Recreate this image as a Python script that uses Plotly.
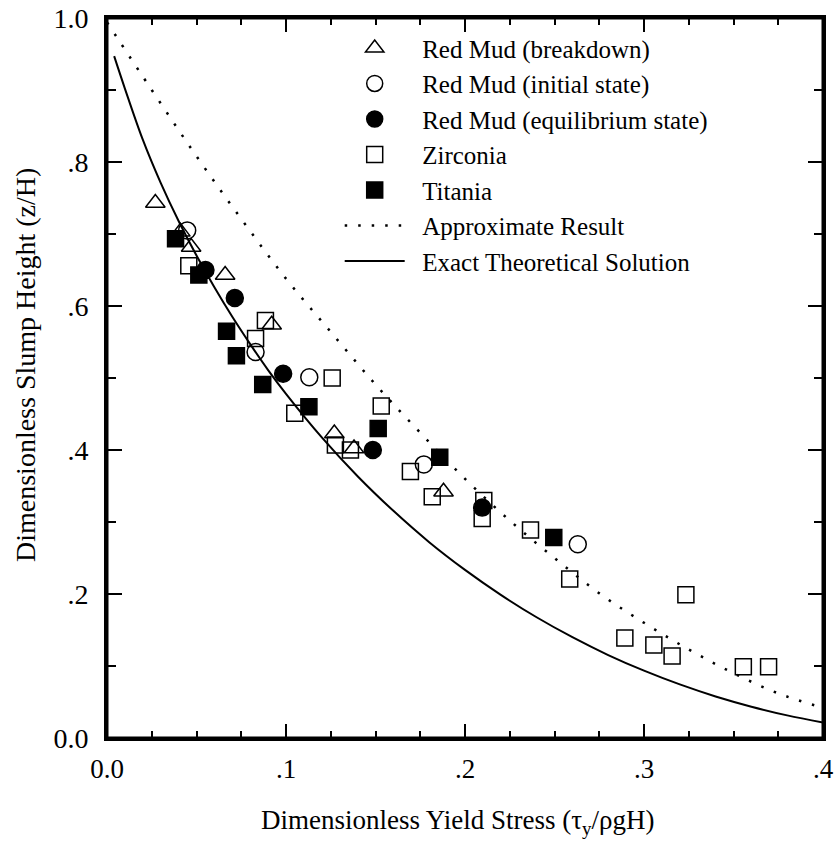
import plotly.graph_objects as go

# ---- data ----
breakdown_x = [0.027, 0.041, 0.047, 0.066, 0.092, 0.127, 0.138, 0.188]
breakdown_y = [0.743, 0.703, 0.682, 0.643, 0.574, 0.423, 0.402, 0.342]

initial_x = [0.0448, 0.083, 0.113, 0.177, 0.263]
initial_y = [0.705, 0.536, 0.501, 0.380, 0.269]

equil_x = [0.055, 0.0714, 0.0984, 0.1485, 0.2096]
equil_y = [0.650, 0.611, 0.506, 0.400, 0.320]

zirconia_x = [0.0457, 0.083, 0.0885, 0.1049, 0.1258, 0.1276, 0.136, 0.1532, 0.1695,
              0.1817, 0.2096, 0.2105, 0.2366, 0.2585, 0.2893, 0.3055, 0.3157, 0.3234,
              0.3555, 0.3696]
zirconia_y = [0.656, 0.555, 0.580, 0.451, 0.500, 0.407, 0.400, 0.461, 0.370,
              0.335, 0.305, 0.330, 0.289, 0.221, 0.139, 0.129, 0.114, 0.199,
              0.099, 0.099]

titania_x = [0.0383, 0.0513, 0.0668, 0.0723, 0.087, 0.1128, 0.1515, 0.1859, 0.2496]
titania_y = [0.6935, 0.643, 0.565, 0.531, 0.491, 0.460, 0.430, 0.390, 0.2785]

approx_x = [0.0, 0.025, 0.05, 0.075, 0.1, 0.125, 0.15, 0.175, 0.2, 0.225, 0.25,
            0.275, 0.3, 0.325, 0.35, 0.375, 0.4]
approx_y = [0.994, 0.900, 0.808, 0.721, 0.638, 0.564, 0.491, 0.424, 0.360, 0.302,
            0.250, 0.201, 0.160, 0.123, 0.090, 0.062, 0.042]

exact_x = [0.004, 0.01, 0.02, 0.03, 0.04, 0.05, 0.06, 0.07, 0.08, 0.09, 0.10, 0.12,
           0.14, 0.16, 0.18, 0.20, 0.22, 0.24, 0.26, 0.28, 0.30, 0.32, 0.34, 0.36,
           0.38, 0.40]
exact_y = [0.947, 0.902, 0.831, 0.771, 0.718, 0.670, 0.626, 0.585, 0.547, 0.511,
           0.478, 0.4175, 0.3636, 0.3155, 0.272, 0.2335, 0.1988, 0.1677, 0.140,
           0.1152, 0.0935, 0.0744, 0.0577, 0.0435, 0.0314, 0.0215]

x_tickvals = [0.0, 0.1, 0.2, 0.3, 0.4]
x_ticktext = ["0.0", ".1", ".2", ".3", ".4"]
y_tickvals = [0.0, 0.2, 0.4, 0.6, 0.8, 1.0]
y_ticktext = ["0.0", ".2", ".4", ".6", ".8", "1.0"]

x_title = "Dimensionless Yield Stress (τ<sub>y</sub>/ρgH)"
y_title = "Dimensionless Slump Height (z/H)"

FONT = "Liberation Serif, Times New Roman, serif"
BLACK = "#000000"
PAD = "\u00a0\u00a0"

fig = go.Figure()

def markers(x, y, name, symbol, size):
    fig.add_trace(go.Scatter(
        x=x, y=y, mode="markers", name=PAD + name,
        marker=dict(symbol=symbol, size=size, color=BLACK,
                    line=dict(color=BLACK, width=1.5)),
    ))

markers(breakdown_x, breakdown_y, "Red Mud (breakdown)", "triangle-up-open", 17)
markers(initial_x, initial_y, "Red Mud (initial state)", "circle-open", 17)
markers(equil_x, equil_y, "Red Mud (equilibrium state)", "circle", 17)
markers(zirconia_x, zirconia_y, "Zirconia", "square-open", 16)
markers(titania_x, titania_y, "Titania", "square", 16)

fig.add_trace(go.Scatter(
    x=approx_x, y=approx_y, mode="lines", name=PAD + "Approximate Result",
    line=dict(color=BLACK, width=2.5, dash="2.5px,11px", shape="spline"),
))
fig.add_trace(go.Scatter(
    x=exact_x, y=exact_y, mode="lines", name=PAD + "Exact Theoretical Solution",
    line=dict(color=BLACK, width=2, shape="spline"),
))

fig.update_layout(
    width=836, height=846,
    margin=dict(l=107, r=13, t=18, b=108, autoexpand=False),
    paper_bgcolor="white", plot_bgcolor="white",
    font=dict(family=FONT, size=26, color=BLACK),
    showlegend=True,
    legend=dict(
        x=0.325, y=0.99, xanchor="left", yanchor="top",
        bgcolor="rgba(0,0,0,0)", borderwidth=0,
        font=dict(family=FONT, size=25, color=BLACK),
        itemwidth=60, tracegroupgap=0,
    ),
    xaxis=dict(
        range=[0, 0.4], showgrid=False, zeroline=False,
        showline=True, linecolor=BLACK, linewidth=3, mirror="ticks",
        ticks="inside", ticklen=14, tickwidth=2, tickcolor=BLACK,
        tickvals=x_tickvals, ticktext=x_ticktext,
        tickfont=dict(family=FONT, size=27),
        ticklabelstandoff=5,
        minor=dict(dtick=0.025, tick0=0, ticks="inside", ticklen=7,
                   tickwidth=2, tickcolor=BLACK),
    ),
    yaxis=dict(
        range=[0, 1.0], showgrid=False, zeroline=False,
        showline=True, linecolor=BLACK, linewidth=3, mirror="ticks",
        ticks="inside", ticklen=15, tickwidth=2, tickcolor=BLACK,
        tickvals=y_tickvals, ticktext=y_ticktext,
        tickfont=dict(family=FONT, size=28),
        ticklabelstandoff=10,
        minor=dict(dtick=0.1, tick0=0, ticks="inside", ticklen=9,
                   tickwidth=2, tickcolor=BLACK),
    ),
    shapes=[
        dict(type="rect", xref="paper", yref="paper", x0=0, y0=0, x1=1, y1=1,
             line=dict(color=BLACK, width=3), fillcolor="rgba(0,0,0,0)",
             layer="above"),
    ],
    annotations=[
        dict(text=x_title, xref="paper", yref="paper", x=(458 - 107) / 716,
             y=(738 - 822) / 720, xanchor="center", yanchor="middle",
             showarrow=False, font=dict(family=FONT, size=27)),
        dict(text=y_title, xref="paper", yref="paper", x=(26 - 107) / 716,
             y=(738 - 365) / 720, xanchor="center", yanchor="middle",
             textangle=-90, showarrow=False, font=dict(family=FONT, size=28)),
    ],
)

fig.write_html("out.html")
